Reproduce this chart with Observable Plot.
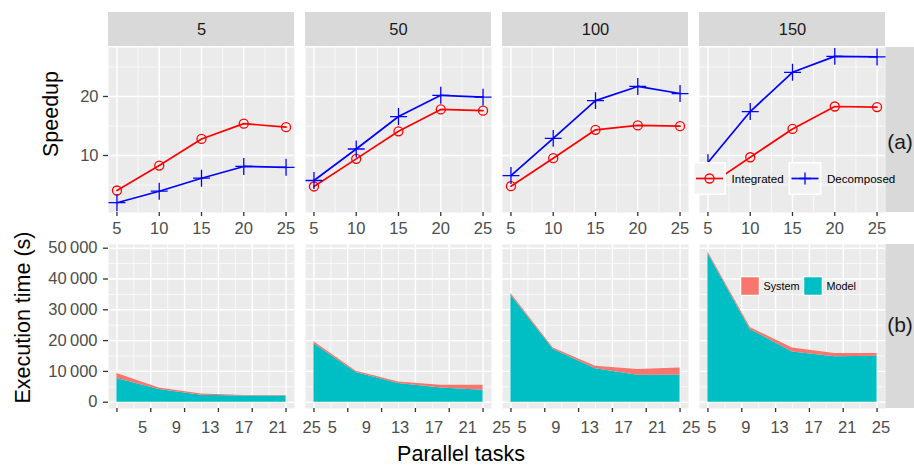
<!DOCTYPE html>
<html>
<head>
<meta charset="utf-8">
<script src="https://cdn.jsdelivr.net/npm/d3@7"></script>
<script src="https://cdn.jsdelivr.net/npm/@observablehq/plot@0.6"></script>
<style>
  body { margin: 0; background: #fff; }
  #fig { position: relative; width: 914px; height: 467px; overflow: hidden; }
  #fig svg { display: block; }
  #overlay { position: absolute; left: 0; top: 0; pointer-events: none; }
</style>
</head>
<body>
<div id="fig"></div>
<script>
// ---------- data ----------
const facets = ["5", "50", "100", "150"];
const tasks = [5, 10, 15, 20, 25];

// Speedup (top row), one inner array per facet
const speedupIntegrated = [
  [4.07, 8.3, 12.8, 15.4, 14.8],
  [4.75, 9.43, 14.1, 17.8, 17.6],
  [4.8, 9.54, 14.35, 15.1, 14.97],
  [4.85, 9.7, 14.5, 18.3, 18.2]
];
const speedupDecomposed = [
  [2.0, 3.95, 6.15, 8.14, 8.0],
  [5.76, 11.1, 16.6, 20.2, 19.9],
  [6.6, 12.9, 19.3, 21.7, 20.5],
  [8.8, 17.45, 24.1, 26.8, 26.7]
];

// Execution time in seconds (bottom row), stacked: Model below, System on top
const timeModel = [
  [7700, 4100, 2300, 2050, 2000],
  [19000, 9640, 6060, 4650, 3900],
  [34700, 17200, 10900, 8760, 8760],
  [48270, 23600, 16340, 14720, 14930]
];
const timeSystem = [
  [1600, 550, 350, 150, 150],
  [600, 420, 540, 850, 1600],
  [600, 400, 800, 1840, 2380],
  [530, 650, 1290, 1080, 870]
];

const topXTicks = [5, 10, 15, 20, 25];
const topXMinor = [7.5, 12.5, 17.5, 22.5];
const topYTicks = [10, 20];
const topYMinor = [5, 15, 25];
const botXTicks = [5, 9, 13, 17, 21, 25];
const botXMinor = [7, 11, 15, 19, 23];
const botYTicks = [0, 10000, 20000, 30000, 40000, 50000];
const botYMinor = [5000, 15000, 25000, 35000, 45000];

const rowLabels = ["(a)", "(b)"];
const speedLegend = ["Integrated", "Decomposed"];
const timeLegend = ["System", "Model"];

// ---------- tables ----------
const intRows = facets.flatMap((k, i) => tasks.map((p, j) => ({k, p, v: speedupIntegrated[i][j]})));
const decRows = facets.flatMap((k, i) => tasks.map((p, j) => ({k, p, v: speedupDecomposed[i][j]})));
const timeRows = facets.flatMap((k, i) => tasks.flatMap((p, j) => [
  {k, p, type: "Model", v: timeModel[i][j]},
  {k, p, type: "System", v: timeSystem[i][j]}
]));
const facetRows = facets.map(k => ({k}));

// ---------- style ----------
const FONT = '"Liberation Sans", Arial, Helvetica, sans-serif';
const RED = "#FF0000", BLUE = "#0000FF";
const SYS = "#F8766D", MOD = "#00BFC4";
const PANEL = "#EBEBEB", STRIP = "#D9D9D9";
const gridMinor = {stroke: "#FFFFFF", strokeOpacity: 1, strokeWidth: 0.7};
const gridMajor = {stroke: "#FFFFFF", strokeOpacity: 1, strokeWidth: 1.4};
const tickStyle = {stroke: "#333333", fill: "#4D4D4D", fontSize: 16.5, strokeWidth: 1.3, label: null};
const centered = {textAnchor: "middle", lineAnchor: "middle"};
const xDomain = [4, 26];
const yTopDomain = [0.34, 28.3];
const yBotDomain = [-2040, 51200];
const fxOpts = {domain: facets, paddingInner: 0.056, paddingOuter: 0, axis: null, label: null};
const labelShift = [25.6, 18.5, 11.1, 4]; // tick labels of lower row sit right of their ticks
const fmtTime = d => d === 0 ? "0" : d3.format(",")(d).replace(/,/g, "\u2009");

// ---------- top row: speedup ----------
const topPlot = Plot.plot({
  width: 914, height: 240,
  marginTop: 47, marginBottom: 28, marginLeft: 107, marginRight: 29,
  style: {fontFamily: FONT, fontSize: "16.5px", background: "transparent", overflow: "visible"},
  fx: fxOpts,
  x: {domain: xDomain, label: null},
  y: {domain: yTopDomain, label: null},
  marks: [
    Plot.frame({fill: PANEL}),
    Plot.gridX(topXMinor, gridMinor),
    Plot.gridY(topYMinor, gridMinor),
    Plot.gridX(topXTicks, gridMajor),
    Plot.gridY(topYTicks, gridMajor),
    // column strips
    Plot.rect(facetRows, {fx: "k", x1: () => xDomain[0], x2: () => xDomain[1],
      y1: () => yTopDomain[1], y2: () => yTopDomain[1], insetTop: -35, insetBottom: 1, fill: STRIP}),
    Plot.text(facetRows, {fx: "k", text: "k", frameAnchor: "top", ...centered, dy: -18, fill: "#1A1A1A", fontSize: 16.5}),
    // row strip
    Plot.rect([{k: "150"}], {fx: "k", x1: () => xDomain[1], x2: () => xDomain[1],
      y1: () => yTopDomain[0], y2: () => yTopDomain[1], insetLeft: 0.5, insetRight: -40, fill: STRIP}),
    Plot.text([{k: "150"}], {fx: "k", text: () => rowLabels[0], frameAnchor: "right", ...centered,
      dx: 14.5, dy: 12, fontSize: 21, fill: "#1A1A1A"}),
    Plot.axisX(topXTicks, {...tickStyle, tickSize: 4, tickPadding: 6}),
    Plot.axisY(topYTicks, {...tickStyle, tickSize: 5, tickPadding: 5}),
    Plot.line(intRows, {fx: "k", x: "p", y: "v", stroke: RED, strokeWidth: 1.7}),
    Plot.line(decRows, {fx: "k", x: "p", y: "v", stroke: BLUE, strokeWidth: 1.7}),
    Plot.dot(intRows, {fx: "k", x: "p", y: "v", r: 4.5, stroke: RED, strokeWidth: 1.3, fill: "none"}),
    Plot.dot(decRows, {fx: "k", x: "p", y: "v", symbol: "plus", r: 5.5, stroke: BLUE, strokeWidth: 1.3}),
    Plot.text([{k: "5"}], {fx: "k", text: () => "Speedup", frameAnchor: "left", ...centered, rotate: -90,
      dx: -57, dy: -16, fontSize: 21.5, fill: "#000"})
  ]
});

// ---------- bottom row: execution time ----------
const botPlot = Plot.plot({
  width: 914, height: 227,
  marginTop: 4, marginBottom: 59, marginLeft: 107, marginRight: 29,
  style: {fontFamily: FONT, fontSize: "16.5px", background: "transparent", overflow: "visible"},
  fx: fxOpts,
  x: {domain: xDomain, label: null},
  y: {domain: yBotDomain, label: null},
  color: {domain: timeLegend, range: [SYS, MOD]},
  marks: [
    Plot.frame({fill: PANEL}),
    Plot.gridX(botXMinor, gridMinor),
    Plot.gridY(botYMinor, gridMinor),
    Plot.gridX(botXTicks, gridMajor),
    Plot.gridY(botYTicks, gridMajor),
    Plot.rect([{k: "150"}], {fx: "k", x1: () => xDomain[1], x2: () => xDomain[1],
      y1: () => yBotDomain[0], y2: () => yBotDomain[1], insetLeft: 0.5, insetRight: -40, fill: STRIP}),
    Plot.text([{k: "150"}], {fx: "k", text: () => rowLabels[1], frameAnchor: "right", ...centered,
      dx: 14.5, dy: -1, fontSize: 21, fill: "#1A1A1A"}),
    Plot.areaY(timeRows, {fx: "k", x: "p", y: "v", fill: "type", order: ["Model", "System"]}),
    Plot.axisX(botXTicks, {...tickStyle, tickSize: 4, tickFormat: () => ""}),
    ...facets.map((k, i) => Plot.text(botXTicks.map(t => ({k, t})), {
      fx: "k", x: "t", text: d => String(d.t), frameAnchor: "bottom", ...centered,
      dy: 19.5, dx: labelShift[i], fill: "#4D4D4D", fontSize: 16.5
    })),
    Plot.axisY(botYTicks, {...tickStyle, tickSize: 5, tickPadding: 6, tickFormat: fmtTime}),
    Plot.text([{k: "5"}], {fx: "k", text: () => "Execution time (s)", frameAnchor: "left", ...centered, rotate: -90,
      dx: -85.6, dy: -9, fontSize: 21.5, fill: "#000"}),
    Plot.text([{k: "50"}], {fx: "k", text: () => "Parallel tasks", frameAnchor: "bottom", ...centered,
      dx: 62.5, dy: 46, fontSize: 21.5, fill: "#000"})
  ]
});

const fig = document.getElementById("fig");
fig.append(topPlot, botPlot);

// ---------- legends (overlay) ----------
const ov = d3.select(fig).append("svg").attr("id", "overlay")
  .attr("width", 914).attr("height", 467)
  .style("font-family", FONT);

// speedup legend
const keyTop = 162, keySize = 33;
const spKeys = [{x: 693, label: speedLegend[0], color: RED, sym: "circle"},
                {x: 788.5, label: speedLegend[1], color: BLUE, sym: "plus"}];
spKeys.forEach(k => {
  const g = ov.append("g");
  g.append("rect").attr("x", k.x + 0.75).attr("y", keyTop + 0.75)
    .attr("width", keySize - 1.5).attr("height", keySize - 1.5)
    .attr("fill", "#F2F2F2").attr("stroke", "#fff").attr("stroke-width", 1.5);
  const cx = k.x + keySize / 2, cy = keyTop + keySize / 2;
  g.append("line").attr("x1", k.x + 3).attr("x2", k.x + keySize - 3).attr("y1", cy).attr("y2", cy)
    .attr("stroke", k.color).attr("stroke-width", 1.7);
  if (k.sym === "circle") {
    g.append("circle").attr("cx", cx).attr("cy", cy).attr("r", 4.5)
      .attr("fill", "none").attr("stroke", k.color).attr("stroke-width", 1.3);
  } else {
    g.append("path").attr("d", `M${cx - 6},${cy}H${cx + 6}M${cx},${cy - 6}V${cy + 6}`)
      .attr("stroke", k.color).attr("stroke-width", 1.3);
  }
  g.append("text").attr("x", k.x + keySize + 5.5).attr("y", cy).attr("dy", "0.35em")
    .attr("font-size", 11.6).attr("fill", "#000").text(k.label);
});

// time legend
const tKeys = [{x: 740, label: timeLegend[0], color: SYS},
               {x: 803, label: timeLegend[1], color: MOD}];
tKeys.forEach(k => {
  const g = ov.append("g");
  g.append("rect").attr("x", k.x + 0.6).attr("y", 276.6).attr("width", 18.8).attr("height", 18.8)
    .attr("fill", k.color).attr("stroke", "#fff").attr("stroke-width", 1.3);
  g.append("text").attr("x", k.x + 23.5).attr("y", 286).attr("dy", "0.35em")
    .attr("font-size", 10.8).attr("fill", "#000").text(k.label);
});
</script>
</body>
</html>
